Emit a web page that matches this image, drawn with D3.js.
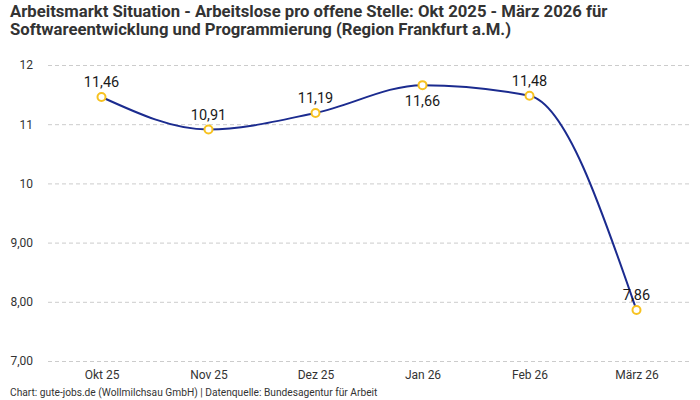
<!DOCTYPE html>
<html>
<head>
<meta charset="utf-8">
<script src="https://cdn.jsdelivr.net/npm/d3@7"></script>
<style>
  body { margin: 0; background: #fff; }
  svg { font-family: "Roboto", "Noto Sans", sans-serif; }
</style>
</head>
<body>
<svg id="stage" width="700" height="400"></svg>
<script>
var months = ['Okt 25', 'Nov 25', 'Dez 25', 'Jan 26', 'Feb 26', 'März 26'],
    values = [11.46, 10.91, 11.19, 11.66, 11.48, 7.86],
    valueLabels = ['11,46', '10,91', '11,19', '11,66', '11,48', '7,86'],
    labelBelow = [false, false, false, true, false, false],
    yTicks = [12, 11, 10, 9, 8, 7],
    yTickLabels = ['12', '11', '10', '9,00', '8,00', '7,00'];

var svg = d3.select('#stage'),
    LEFT = 48,
    RIGHT = 690,
    TOP = 65,
    BOTTOM = 361;

var x = d3.scalePoint()
  .domain(months)
  .range([LEFT, RIGHT])
  .padding(0.5);

var y = d3.scaleLinear()
  .domain([7, 12])
  .range([BOTTOM, TOP]);

// titel
svg.append('text')
  .attr('x', 10).attr('y', 17)
  .attr('font-size', 16.7).attr('font-weight', 'bold').attr('fill', '#333')
  .text('Arbeitsmarkt Situation - Arbeitslose pro offene Stelle: Okt 2025 - März 2026 für');
svg.append('text')
  .attr('x', 10).attr('y', 35)
  .attr('font-size', 16.7).attr('font-weight', 'bold').attr('fill', '#333')
  .text('Softwareentwicklung und Programmierung (Region Frankfurt a.M.)');

// y achse mit gitter
var yAxis = svg.append('g')
  .attr('transform', 'translate(' + LEFT + ',0)')
  .call(d3.axisLeft(y)
    .tickValues(yTicks)
    .tickSize(-(RIGHT - LEFT))
    .tickPadding(15)
    .tickFormat(function (d, i) { return yTickLabels[i]; }));
yAxis.select('.domain').remove();
yAxis.selectAll('line')
  .attr('stroke', '#ccc')
  .attr('stroke-dasharray', '4,3');
yAxis.selectAll('text')
  .attr('font-size', 12)
  .attr('fill', '#333')
  .attr('font-family', 'Roboto, sans-serif');

// x achse
var xAxis = svg.append('g')
  .attr('transform', 'translate(0,' + BOTTOM + ')')
  .call(d3.axisBottom(x).tickSize(0).tickPadding(9));
xAxis.select('.domain').remove();
xAxis.selectAll('text')
  .attr('font-size', 12)
  .attr('fill', '#333')
  .attr('font-family', 'Roboto, sans-serif');

var line = d3.line()
  .x(function (d, i) { return x(months[i]); })
  .y(function (d) { return y(d); })
  .curve(d3.curveMonotoneX);

svg.append('path')
  .datum(values)
  .attr('d', line)
  .attr('fill', 'none')
  .attr('stroke', '#1b2b8f')
  .attr('stroke-width', 2);

svg.selectAll('circle.pt')
  .data(values)
  .enter()
  .append('circle')
  .attr('class', 'pt')
  .attr('cx', function (d, i) { return x(months[i]); })
  .attr('cy', function (d) { return y(d); })
  .attr('r', 4)
  .attr('fill', '#fff')
  .attr('stroke', '#f7c220')
  .attr('stroke-width', 2);

svg.selectAll('text.val')
  .data(values)
  .enter()
  .append('text')
  .attr('class', 'val')
  .attr('x', function (d, i) { return x(months[i]); })
  .attr('y', function (d, i) { return y(d) + (labelBelow[i] ? 21 : -10); })
  .attr('text-anchor', 'middle')
  .attr('font-size', 14.5)
  .attr('fill', '#1a1a1a')
  .text(function (d, i) { return valueLabels[i]; });

svg.append('text')
  .attr('x', 10).attr('y', 396)
  .attr('font-size', 10.2).attr('fill', '#333')
  .text('Chart: gute-jobs.de (Wollmilchsau GmbH) | Datenquelle: Bundesagentur für Arbeit');
</script>
</body>
</html>
